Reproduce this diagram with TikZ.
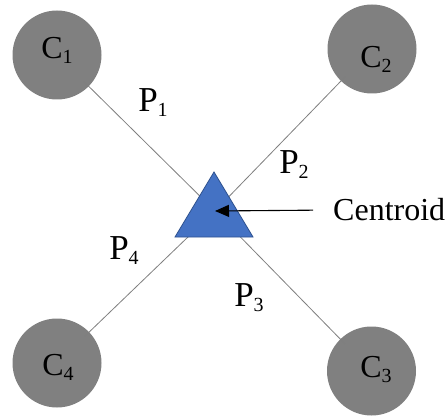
\documentclass[tikz,border=0pt]{standalone}
\usepackage{fontspec}
\setmainfont{Liberation Serif}
\usetikzlibrary{arrows.meta}

\definecolor{dotgray}{HTML}{808080}
\definecolor{linkgray}{HTML}{7F7F7F}
\definecolor{triblue}{HTML}{4472C4}
\definecolor{triedge}{HTML}{2F528F}

\newcommand{\sublabel}[2]{#1\raisebox{-5pt}{\fontsize{20}{20}\selectfont #2}}

\tikzset{
  cluster/.style={circle, fill=dotgray, minimum size=89pt, inner sep=0pt},
  link/.style={draw=linkgray, line width=0.8pt, shorten <=38pt},
  plabel/.style={font=\fontsize{35}{38}\selectfont, inner sep=0pt},
  clabel/.style={font=\fontsize{32}{34}\selectfont, inner sep=0pt},
  pointer/.style={-{Triangle[length=14pt,width=12pt]}, line width=1.1pt, shorten <=20pt}
}

\begin{document}
\begin{tikzpicture}[x=1pt, y=-1pt]
  \useasboundingbox (0,0) rectangle (447,417);
  % clusters
  \node[cluster, label={[clabel, yshift=5pt]center:\sublabel{C}{1}}] (c1) at (57,55) {};
  \node[cluster, label={[clabel, xshift=4pt, yshift=-10pt]center:\sublabel{C}{2}}] (c2) at (372,49) {};
  \node[cluster, label={[clabel, xshift=4.5pt, yshift=1pt]center:\sublabel{C}{3}}] (c3) at (371.5,371) {};
  \node[cluster, label={[clabel, xshift=1pt, yshift=-4pt]center:\sublabel{C}{4}}] (c4) at (57,363) {};
  \coordinate (cent) at (215,211);
  % links to the centroid
  \foreach \c in {c1,c2,c3,c4}
    \draw[link] (\c.center) -- (cent);
  % centroid triangle
  \filldraw[fill=triblue, draw=triedge, line width=0.8pt] (214,172) -- (253,237) -- (175,237) -- cycle;
  % labels
  \node[plabel] (p1) at (153,103) {\sublabel{P}{1}};
  \node[plabel] (p2) at (294,165) {\sublabel{P}{2}};
  \node[plabel] (p3) at (249,298) {\sublabel{P}{3}};
  \node[plabel] (p4) at (124,251) {\sublabel{P}{4}};
  \node[font=\fontsize{32}{36}\selectfont, inner sep=0pt, anchor=west] (cname) at (333,210) {Centroid};
  \draw[pointer] (cname.west) -- (cent);
\end{tikzpicture}
\end{document}
